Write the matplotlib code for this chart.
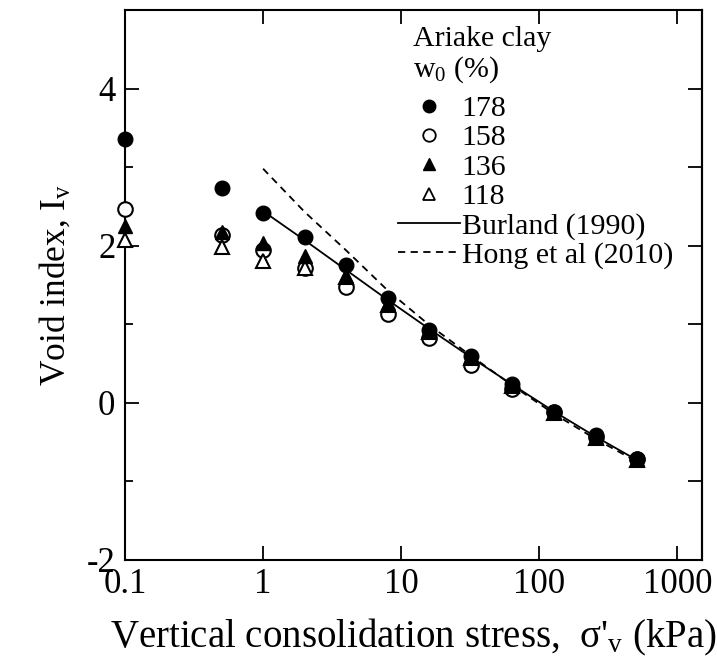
import matplotlib
matplotlib.use('Agg')
import matplotlib.pyplot as plt
from matplotlib.lines import Line2D

plt.rcParams['font.family'] = ['Liberation Serif', 'DejaVu Serif']
plt.rcParams['mathtext.default'] = 'regular'
plt.rcParams['axes.unicode_minus'] = False

# vertical consolidation stress (kPa)
stress = [0.1, 0.5, 1, 2, 4, 8, 16, 32, 64, 128, 256, 512]

# void index for each initial water content w0 (%)
iv_178 = [3.36, 2.74, 2.42, 2.11, 1.75, 1.34, 0.93, 0.60, 0.24, -0.11, -0.41, -0.71]
iv_158 = [2.47, 2.14, 1.94, 1.72, 1.47, 1.13, 0.83, 0.48, 0.18, -0.12, -0.43, -0.71]
iv_136 = [2.25, 2.17, 2.04, 1.87, 1.62, 1.27, 0.92, 0.59, 0.23, -0.12, -0.44, -0.72]
iv_118 = [2.07, 1.98, 1.81, 1.72, 1.60, 1.25, 0.90, 0.57, 0.21, -0.13, -0.45, -0.73]

# reference lines
line_stress = [1, 2, 4, 8, 16, 32, 64, 128, 256, 512]
burland = [2.44, 2.07, 1.69, 1.31, 0.94, 0.58, 0.23, -0.11, -0.43, -0.73]
hong = [2.98, 2.43, 1.94, 1.43, 0.99, 0.60, 0.22, -0.14, -0.46, -0.75]

xticks = [0.1, 1, 10, 100, 1000]
xtick_labels = ['0.1', '1', '10', '100', '1000']
yticks = [-2, 0, 2, 4]

fig = plt.figure(figsize=(7.17, 6.66), dpi=100)
ax = fig.add_axes([125 / 717, 106 / 666, 577 / 717, 550 / 666])

ax.plot(line_stress, burland, color='black', lw=1.3, zorder=2)
ax.plot(line_stress, hong, color='black', lw=1.3, ls=(0, (4, 3)), zorder=2)

ms = 10.5
ax.plot(stress, iv_158, 'o', mfc='white', mec='black', mew=1.5, ms=ms, ls='none', zorder=3, clip_on=False)
ax.plot(stress, iv_118, '^', mfc='white', mec='black', mew=1.5, ms=ms, ls='none', zorder=3, clip_on=False)
ax.plot(stress, iv_178, 'o', color='black', ms=ms, ls='none', zorder=4, clip_on=False)
ax.plot(stress, iv_136, '^', color='black', ms=ms, ls='none', zorder=4, clip_on=False)

ax.set_xscale('log')
ax.set_xlim(0.1, 1510)
ax.set_ylim(-2, 5)
ax.set_xticks(xticks)
ax.set_xticklabels(xtick_labels)
ax.xaxis.set_minor_locator(matplotlib.ticker.NullLocator())
ax.set_yticks(yticks)
ax.set_yticks([-1, 1, 3], minor=True)

for s in ax.spines.values():
    s.set_linewidth(1.5)
ax.tick_params(which='major', direction='in', length=10, width=1.3,
               labelsize=25, top=True, pad=7)
ax.tick_params(axis='x', which='major', pad=6)
ax.tick_params(which='minor', direction='in', length=6, width=1.3)

right = ax.secondary_yaxis('right')
right.set_yticks([-2, -1, 0, 1, 2, 3, 4, 5])
right.tick_params(direction='in', length=10, width=1.3, labelright=False)
right.spines['right'].set_linewidth(1.5)

ax.set_xlabel("Vertical consolidation stress,  σ'$_{v}$ (kPa)", fontsize=28, labelpad=11)
ax.set_ylabel('Void index, I$_{v}$', fontsize=25.5, labelpad=10)

# legend
ax.text(0.499, 0.947, 'Ariake clay', transform=ax.transAxes, fontsize=21.5, va='center')
ax.text(0.499, 0.891, 'w$_0$ (%)', transform=ax.transAxes, fontsize=21.5, va='center')

handles = [
    Line2D([], [], marker='o', color='black', ls='none', ms=9),
    Line2D([], [], marker='o', mfc='white', mec='black', mew=1.3, ls='none', ms=9),
    Line2D([], [], marker='^', color='black', ls='none', ms=9),
    Line2D([], [], marker='^', mfc='white', mec='black', mew=1.3, ls='none', ms=9),
    Line2D([], [], color='black', lw=1.3),
    Line2D([], [], color='black', lw=1.3, ls=(0, (4, 3))),
]
labels = ['178', '158', '136', '118', 'Burland (1990)', 'Hong et al (2010)']
ax.legend(handles, labels, loc='upper left', bbox_to_anchor=(0.473, 0.845),
          frameon=False, fontsize=21.5, handlelength=2.07, handletextpad=0.07,
          labelspacing=0.08, borderpad=0, borderaxespad=0)

fig.savefig('out.png', dpi=100)
